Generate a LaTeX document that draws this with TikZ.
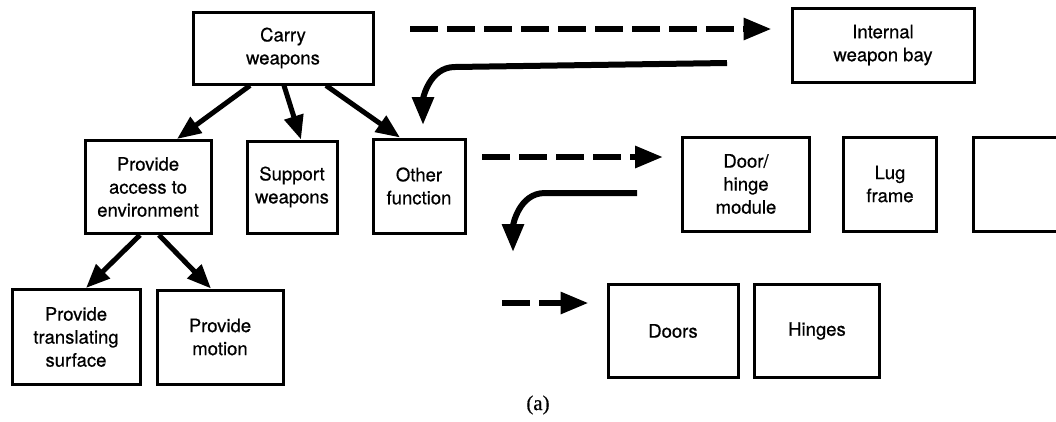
\documentclass[tikz,border=0pt]{standalone}
\usepackage{fontspec}
\setmainfont{TeX Gyre Heros}[FakeBold=0.6]
\newfontfamily\capfont{Liberation Serif}[FakeBold=0.6]
\usetikzlibrary{arrows.meta}

\tikzset{
  block/.style={draw, line width=3pt, align=center, inner sep=0pt,
    font=\fontsize{18.5}{23}\selectfont},
  tree/.style={line width=5pt, -{Triangle[length=24pt,width=19pt]}},
  link/.style={line width=6pt, dash pattern=on 28pt off 9pt,
    -{Triangle[length=28pt,width=21pt]}},
  turn/.style={line width=6pt, -{Triangle[length=28pt,width=21pt]}}
}

\begin{document}
\begin{tikzpicture}[x=1pt, y=-1pt]
        \useasboundingbox (0,0) rectangle (1056,421);
        % Function tree
        \node [block, minimum width=180, minimum height=72] (carry) at (283,48) {Carry\\weapons};
        \node [block, minimum width=126, minimum height=93] (access) at (148,187) {Provide\\access to\\environment};
        \node [block, minimum width=90, minimum height=92] (support) at (292,187) {Support\\weapons};
        \node [block, minimum width=92, minimum height=94] (other) at (419,186) {Other\\function};
        \node [block, minimum width=128, minimum height=95] (trans) at (76,337) {Provide\\translating\\surface};
        \node [block, minimum width=126, minimum height=94] (motion) at (220,337) {Provide\\motion};
        % Modules
        \node [block, minimum width=182, minimum height=74] (bay) at (883,45) {Internal\\weapon bay};
        \node [block, minimum width=127, minimum height=94] (door) at (746,184) {Door/\\hinge\\module};
        \node [block, minimum width=93, minimum height=94] (lug) at (890,184) {Lug\\frame};
        \node [block, minimum width=100, minimum height=94] (blank) at (1023,184) {};
        \node [block, minimum width=130, minimum height=93] (doors) at (673,331) {Doors};
        \node [block, minimum width=125, minimum height=93] (hinges) at (817,331) {Hinges};
        \node [font=\capfont\fontsize{21}{25}\selectfont] (cap) at (538,405) {(a)};
        % Tree arrows
        \draw [tree] ([xshift=-33]carry.south) -- ([xshift=29]access.north);
        \draw [tree] ([xshift=1]carry.south) -- ([xshift=9]support.north);
        \draw [tree] ([xshift=43]carry.south) -- ([xshift=-19]other.north);
        \draw [tree] ([xshift=-8]access.south) -- ([xshift=10]trans.north);
        \draw [tree] ([xshift=11]access.south) -- ([xshift=-9]motion.north);
        % Dashed links
        \coordinate (d1) at (410,29);
        \coordinate (d2) at (482,157);
        \coordinate (d3) at (502,303);
        \draw [link, shorten >=19pt] (d1) -- (d1 -| bay.west);
        \draw [link, shorten >=18pt] (d2) -- (d2 -| door.west);
        \draw [link, shorten >=18pt] (d3) -- (d3 -| doors.west);
        % Turning arrows
        \coordinate (t1s) at (727,63);
        \coordinate (t1e) at (423,125);
        \coordinate (t2s) at (637,193);
        \coordinate (t2e) at (513,252);
        \draw [turn] (t1s) -- (455,67) to[out=180, in=90] (t1e);
        \draw [turn] (t2s) -- (545,193) to[out=180, in=90] (t2e);
    \end{tikzpicture}
\end{document}
